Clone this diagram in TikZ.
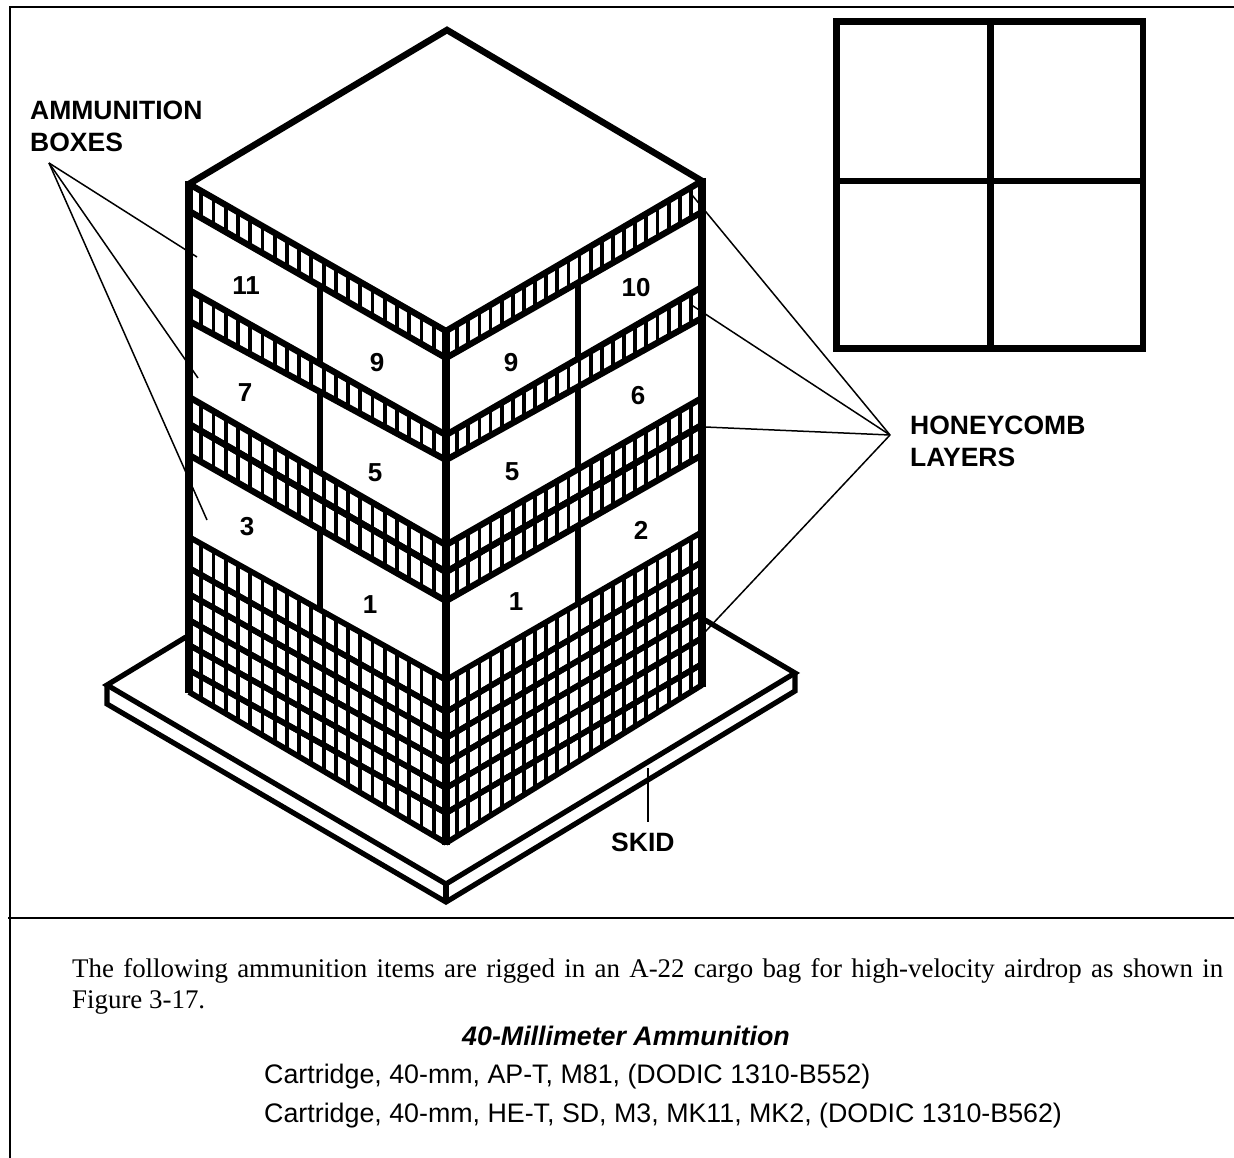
\documentclass[tikz,border=0pt]{standalone}
\usepackage{fontspec}
\setmainfont{Liberation Serif}
\setsansfont{Liberation Sans}
\usetikzlibrary{calc}

\begin{document}
\begin{tikzpicture}[
  x=1pt, y=-1pt,
  heavy/.style={line width=6.5pt, line join=miter},
  post/.style={line width=7.5pt},
  skidline/.style={line width=5.2pt, line join=miter},
  cellwall/.style={line width=3.8pt},
  leader/.style={line width=1.5pt},
  rule/.style={line width=2.4pt},
  callout/.style={font=\sffamily\bfseries\fontsize{26.5}{31.5}\selectfont, align=left, anchor=north west, inner sep=0pt},
  boxnum/.style={font=\sffamily\bfseries\fontsize{26}{26}\selectfont, inner sep=0pt},
  listline/.style={font=\sffamily\fontsize{26.8}{30}\selectfont, anchor=base west, inner sep=0pt}
]
\useasboundingbox (0,0) rectangle (1234,1158);
% page rules
\draw[rule] (1234,7) -- (10,7) -- (10,1158);
\draw[rule] (8,918) -- (1234,918);
% skid
\coordinate (skidL) at (107,685);
\coordinate (skidLb) at (107,704);
\coordinate (skidF) at (446,884);
\coordinate (skidFb) at (446,902);
\coordinate (skidR) at (795,673);
\coordinate (skidRb) at (795,691);
\draw[skidline] (186,637) -- (skidL) -- (skidF) -- (skidR) -- (705,620);
\draw[skidline] (skidL) -- (skidLb) -- (skidFb) -- (skidRb) -- (skidR);
\draw[skidline] (skidF) -- (skidFb);
% top of the stack
\draw[heavy] (189,184) -- (447,30) -- (702,181);
% left face: upper line, lower line of each layer (left end / front end), line width
\foreach \ua/\ub/\la/\lb/\lw in {184/331/211/358/6.3, 290/435/321/460/6.3, 397/545/424/572/6.3, 424/572/455/601/6.3,
    537/680/568/712/5.7, 568/712/594/738/5.7, 594/738/620/763/5.7, 620/763/645/788/5.7, 645/788/670/813/5.7, 670/813/692/843/5.7}{
  \draw[line width=\lw pt] (189,\ua) -- (446,\ub);
  \draw[line width=\lw pt] (189,\la) -- (446,\lb);
  \foreach \i in {1,...,20}
    \draw[cellwall] ($(189,\ua)!\i/21!(446,\ub)$) -- ($(189,\la)!\i/21!(446,\lb)$);
}
% right face
\foreach \ua/\ub/\la/\lb/\lw in {181/331/212/358/6.3, 287/435/318/460/6.3, 398/545/425/572/6.3, 425/572/455/601/6.3,
    532/680/562/712/5.7, 562/712/588/738/5.7, 588/738/613/763/5.7, 613/763/638/788/5.7, 638/788/664/813/5.7, 664/813/685/843/5.7}{
  \draw[line width=\lw pt] (702,\ua) -- (446,\ub);
  \draw[line width=\lw pt] (702,\la) -- (446,\lb);
  \foreach \i in {1,...,22}
    \draw[cellwall] ($(702,\ua)!\i/23!(446,\ub)$) -- ($(702,\la)!\i/23!(446,\lb)$);
}
% corner posts
\draw[post] (189,181) -- (189,693);
\draw[post] (446,329) -- (446,845);
\draw[post] (702,178) -- (702,687);
% box dividers
\foreach \ya/\yb in {285/364, 392/472, 529/610}
  \draw[heavy] (320,\ya) -- (320,\yb);
\foreach \ya/\yb in {283/359, 386/469, 526/604}
  \draw[heavy] (578,\ya) -- (578,\yb);
% box numbers
\foreach \x/\y/\t in {246/286/11, 377/363/9, 245/393/7, 375/473/5, 247/527/3, 370/605/1}
  \node[boxnum] (left\t) at (\x,\y) {\t};
\foreach \x/\y/\t in {511/363/9, 636/288/10, 638/396/6, 512/472/5, 641/530/2, 516/602/1}
  \node[boxnum] (right\t) at (\x,\y) {\t};
% plan view
\draw[heavy] (836.5,21.5) rectangle (1143,348.5);
\draw[heavy] (990.5,21.5) -- (990.5,348.5);
\draw[heavy] (836.5,181) -- (1143,181);
% callouts
\node[callout] (ammo) at (30,101) {AMMUNITION\\BOXES};
\node[callout] (honey) at (910,416) {HONEYCOMB\\LAYERS};
\node[callout] (skid) at (611,833) {SKID};
\coordinate (ammofan) at (49,163);
\coordinate (ammoa) at (197,257);
\coordinate (ammob) at (198,378);
\coordinate (ammoc) at (207,520);
\foreach \c in {ammoa,ammob,ammoc}
  \draw[leader] (ammofan) -- (\c);
\coordinate (honeyfan) at (890,435);
\coordinate (honeya) at (692,195);
\coordinate (honeyb) at (690,304);
\coordinate (honeyc) at (705,427);
\coordinate (honeyd) at (705,632);
\foreach \c in {honeya,honeyb,honeyc,honeyd}
  \draw[leader] (honeyfan) -- (\c);
\coordinate (skidtip) at (648,768);
\coordinate (skidfoot) at (648,822);
\draw[leader] (skidtip) -- (skidfoot);
% text below the figure
\node[font=\fontsize{26.9}{31}\selectfont, text width=1151pt, align=justify, anchor=north west, inner sep=0pt] (intro) at (72,958)
  {The following ammunition items are rigged in an A-22 cargo bag for high-velocity airdrop as shown in\linebreak Figure 3-17.};
\node[listline, font=\sffamily\bfseries\itshape\fontsize{26.8}{30}\selectfont] (heading) at (462,1045) {40-Millimeter Ammunition};
\node[listline] (itema) at (264,1083) {Cartridge, 40-mm, AP-T, M81, (DODIC 1310-B552)};
\node[listline] (itemb) at (264,1122) {Cartridge, 40-mm, HE-T, SD, M3, MK11, MK2, (DODIC 1310-B562)};
\end{tikzpicture}
\end{document}
